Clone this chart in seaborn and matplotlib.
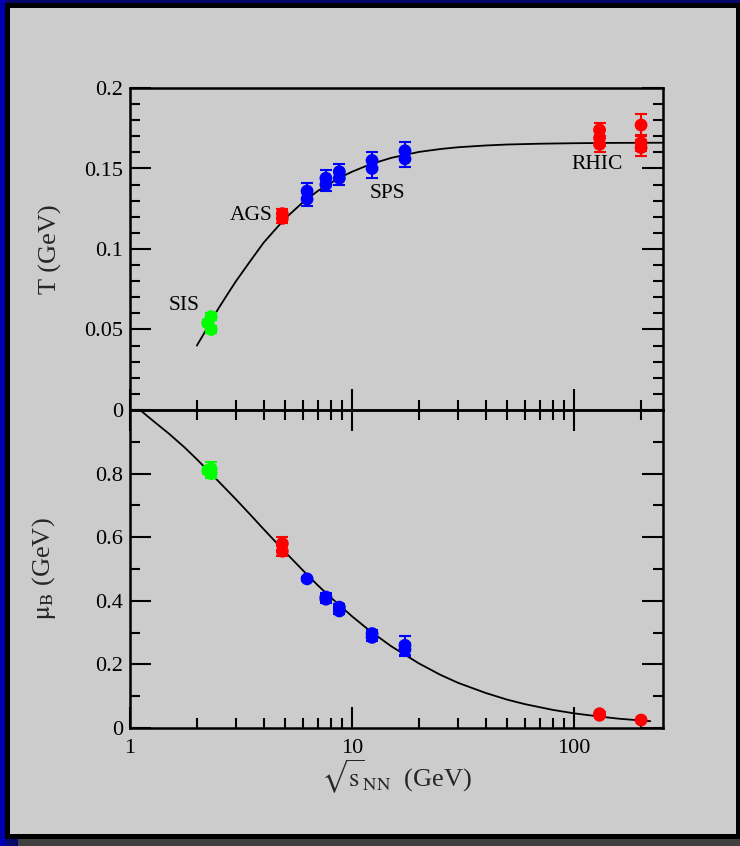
import numpy as np
import pandas as pd
import matplotlib
matplotlib.use("Agg")
import matplotlib.pyplot as plt
from matplotlib.patches import Rectangle
from matplotlib.ticker import LogLocator, MultipleLocator, NullFormatter
import seaborn as sns

# ---------------- data ----------------
T_sqrts = [2.24, 2.32, 2.32, 4.85, 4.85, 6.27, 6.27, 7.62, 7.62, 8.76, 8.76,
           12.3, 12.3, 17.3, 17.3, 130, 130, 130, 200, 200, 200]
T_vals = [0.054, 0.058, 0.050, 0.122, 0.119, 0.136, 0.131, 0.144, 0.140,
          0.148, 0.144, 0.155, 0.150, 0.161, 0.156, 0.174, 0.169, 0.165,
          0.177, 0.166, 0.163]
T_errs = [0.002, 0.002, 0.002, 0.003, 0.003, 0.005, 0.004, 0.005, 0.004,
          0.005, 0.004, 0.005, 0.006, 0.0055, 0.005, 0.0045, 0.005, 0.005,
          0.007, 0.005, 0.005]
T_group = ["SIS"] * 3 + ["AGS"] * 2 + ["SPS"] * 10 + ["RHIC"] * 6

mu_sqrts = [2.24, 2.32, 2.32, 4.85, 4.85, 6.27, 7.62, 7.62, 8.76, 8.76,
            12.3, 12.3, 17.3, 17.3, 130, 130, 200]
mu_vals = [0.81, 0.815, 0.80, 0.58, 0.556, 0.469, 0.412, 0.405, 0.380, 0.368,
           0.297, 0.285, 0.260, 0.247, 0.045, 0.040, 0.025]
mu_errs = [0.01, 0.02, 0.015, 0.02, 0.015, 0.006, 0.012, 0.012, 0.01, 0.01,
           0.01, 0.01, 0.03, 0.02, 0.004, 0.004, 0.003]
mu_group = ["SIS"] * 3 + ["AGS"] * 2 + ["SPS"] * 9 + ["RHIC"] * 3

# fitted curves
Tcurve_sqrts = [2.0, 2.25, 2.5, 2.75, 3.0, 3.5, 4.0, 4.5, 5.0, 6.0, 7.0, 8.0,
                9.0, 10, 12, 15, 20, 25, 30, 40, 50, 70, 100, 150, 250]
Tcurve_vals = [0.040, 0.052, 0.063, 0.072, 0.080, 0.093, 0.104, 0.112, 0.119,
               0.129, 0.136, 0.141, 0.145, 0.148, 0.1525, 0.1566, 0.1603,
               0.1621, 0.1632, 0.1643, 0.1649, 0.1654, 0.1657, 0.1659, 0.166]
mucurve_sqrts = [1.11, 1.25, 1.5, 1.75, 2.0, 2.5, 3.0, 3.5, 4.0, 5.0, 6.0, 7.0,
                 8.0, 10, 12, 15, 20, 25, 30, 40, 50, 60, 80, 100, 130, 160, 220]
mucurve_vals = [1.0, 0.97, 0.925, 0.884, 0.845, 0.776, 0.719, 0.669, 0.625,
                0.553, 0.496, 0.449, 0.411, 0.351, 0.306, 0.257, 0.203, 0.167,
                0.142, 0.110, 0.089, 0.075, 0.057, 0.046, 0.036, 0.029, 0.0215]

T_ticks = [0, 0.05, 0.1, 0.15, 0.2]
T_ticklabels = ["0", "0.05", "0.1", "0.15", "0.2"]
mu_ticks = [0, 0.2, 0.4, 0.6, 0.8]
mu_ticklabels = ["0", "0.2", "0.4", "0.6", "0.8"]
x_ticks = [1, 10, 100]
x_ticklabels = ["1", "10", "100"]

labels_text = ["SIS", "AGS", "SPS", "RHIC"]
palette = {"SIS": "#00ff00", "AGS": "#ff0000", "SPS": "#0000ff", "RHIC": "#ff0000"}

# ---------------- style ----------------
sns.set_style("ticks")
plt.rcParams["font.family"] = ["Liberation Serif", "DejaVu Serif"]
plt.rcParams["mathtext.fontset"] = "stix"

W, H = 740, 846
fig = plt.figure(figsize=(W / 100, H / 100), dpi=100)
fig.patch.set_facecolor("#08086a")


def frect(x0, y0, x1, y1, color, z=0):
    fig.add_artist(Rectangle((x0 / W, 1 - y1 / H), (x1 - x0) / W, (y1 - y0) / H,
                             transform=fig.transFigure, color=color, zorder=z,
                             lw=0))


frect(0, 0, 6, 846, "#0000b0", -5)
frect(5, 3, 740, 839, "#000000", -4)
frect(18, 839, 740, 846, "#404040", -4)
frect(10, 8, 736, 834, "#cccccc", -3)

axL, axR = 130, 663
axT = fig.add_axes([axL / W, 1 - 410 / H, (axR - axL) / W, 322 / H])
axB = fig.add_axes([axL / W, 1 - 728 / H, (axR - axL) / W, 318 / H])

dfT = pd.DataFrame({"sqrts": T_sqrts, "T": T_vals, "err": T_errs, "group": T_group})
dfM = pd.DataFrame({"sqrts": mu_sqrts, "mu": mu_vals, "err": mu_errs, "group": mu_group})

ms = 85
for ax, df, ycol in [(axT, dfT, "T"), (axB, dfM, "mu")]:
    ax.set_facecolor("none")
    for g, sub in df.groupby("group"):
        ax.errorbar(sub["sqrts"], sub[ycol], yerr=sub["err"], fmt="none",
                    ecolor=palette[g], elinewidth=1.5, capsize=4.5,
                    capthick=1.5, zorder=2)
    sns.scatterplot(data=df, x="sqrts", y=ycol, hue="group", palette=palette,
                    s=ms, edgecolor="none", legend=False, ax=ax, zorder=3)

sns.lineplot(x=Tcurve_sqrts, y=Tcurve_vals, ax=axT, color="black", lw=1.3,
             estimator=None, sort=False, zorder=1)
sns.lineplot(x=mucurve_sqrts, y=mucurve_vals, ax=axB, color="black", lw=1.3,
             estimator=None, sort=False, zorder=1)

for ax in (axT, axB):
    ax.set_xscale("log")
    ax.set_xlim(1, 251)
    for s in ax.spines.values():
        s.set_linewidth(1.8)
        s.set_color("black")
    ax.xaxis.set_major_locator(LogLocator(base=10, numticks=10))
    ax.xaxis.set_minor_locator(LogLocator(base=10, subs=np.arange(2, 10), numticks=20))
    ax.xaxis.set_minor_formatter(NullFormatter())
    ax.tick_params(which="both", direction="in", width=1.5, colors="black",
                   labelsize=16, left=True, right=True)
    ax.tick_params(which="major", length=15, pad=5)
    ax.tick_params(which="minor", length=7.5)
    ax.set_xlabel("")
    ax.set_ylabel("")

axT.set_ylim(0, 0.2)
axT.set_yticks(T_ticks, labels=T_ticklabels)
axT.yaxis.set_minor_locator(MultipleLocator(0.01))
axT.tick_params(axis="x", which="both", top=False, bottom=True, labelbottom=False)

axB.set_ylim(0, 1.0)
axB.set_yticks(mu_ticks, labels=mu_ticklabels)
axB.yaxis.set_minor_locator(MultipleLocator(0.1))
axB.set_xticks(x_ticks, labels=x_ticklabels)
axB.tick_params(axis="x", which="both", top=True, bottom=True)
axB.tick_params(axis="x", which="major", pad=8)

axT.set_ylabel("T (GeV)", fontsize=19)
axT.yaxis.set_label_coords(-0.128, 0.5)
axB.set_ylabel(r"$\mathrm{\mu}_{\mathrm{B}}$ (GeV)", fontsize=19)
axB.yaxis.set_label_coords(-0.135, 0.5)
axB.set_xlabel(r"$\sqrt{\mathrm{s}}_{\mathrm{NN}}$  (GeV)", fontsize=19, labelpad=0)

# region labels
label_pos = {"SIS": (1.75, 0.0646, "center"), "AGS": (4.41, 0.121, "right"),
             "SPS": (14.45, 0.1346, "center"), "RHIC": (127.3, 0.1526, "center")}
for name in labels_text:
    x, y, ha = label_pos[name]
    axT.text(x, y, name, fontsize=15.5, ha=ha, va="center", color="black")

fig.savefig("out.png", dpi=100, facecolor=fig.get_facecolor())
